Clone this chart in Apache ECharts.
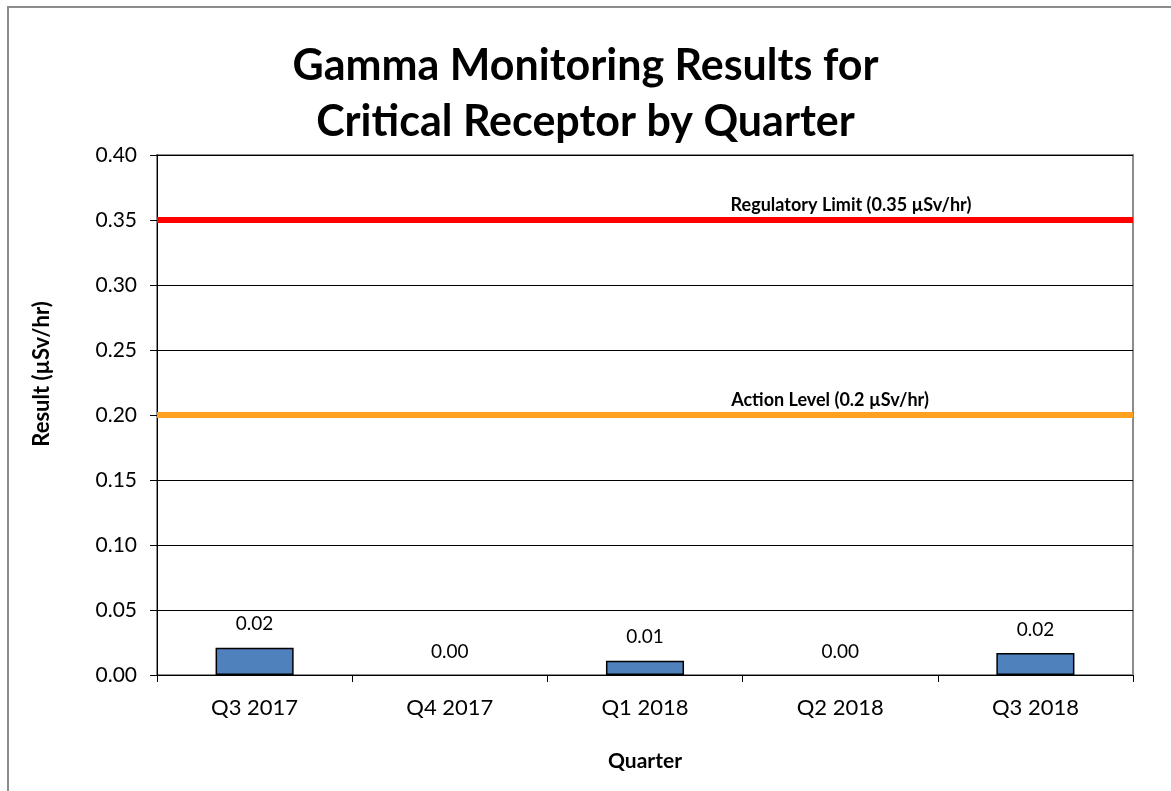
<!DOCTYPE html>
<html>
<head>
<meta charset="utf-8">
<script src="https://cdn.jsdelivr.net/npm/echarts@6/dist/echarts.min.js"></script>
<style>
  html, body { margin: 0; padding: 0; background: #fff; }
  #frame { position: absolute; left: 7px; top: 6px; width: 1200px; height: 820px; border: 2px solid #8c8c8c; }
  #chart { position: absolute; left: 0; top: 0; width: 1171px; height: 791px; }
</style>
</head>
<body>
<div id="frame"></div>
<div id="chart"></div>
<script>
// quarters and measured results (µSv/hr)
const quarters = ['Q3 2017', 'Q4 2017', 'Q1 2018', 'Q2 2018', 'Q3 2018'];
const results = [0.021, 0, 0.011, 0, 0.017];
// reference levels
const regulatoryLimit = 0.35;
const actionLevel = 0.2;

const font = 'Lato, "Open Sans", sans-serif';
let myChart = echarts.init(document.getElementById('chart'));

// zero results have no visible bar, only the label
const barData = results.map(v => ({
  value: v,
  itemStyle: v === 0 ? { color: 'transparent', borderWidth: 0 } : {}
}));

let option = {
  animation: false,
  title: {
    text: 'Gamma Monitoring Results for\nCritical Receptor by Quarter',
    left: 'center',
    top: 33,
    textStyle: { fontFamily: font, fontSize: 43, fontWeight: 'bold', color: '#000', lineHeight: 56 }
  },
  grid: {
    left: 157, top: 155, right: 38, bottom: 116,
    show: true, borderColor: '#8c8c8c', borderWidth: 2, backgroundColor: 'transparent'
  },
  xAxis: {
    type: 'category',
    data: quarters,
    name: 'Quarter',
    nameLocation: 'middle',
    nameGap: 76,
    nameTextStyle: { fontFamily: font, fontSize: 21, fontWeight: 'bold', color: '#000' },
    axisLine: { lineStyle: { color: '#000', width: 1 } },
    axisTick: { show: true, length: 7, lineStyle: { color: '#000' } },
    axisLabel: { fontFamily: font, fontSize: 22, color: '#000', margin: 22 }
  },
  yAxis: {
    type: 'value',
    min: 0, max: 0.4, interval: 0.05,
    name: 'Result (µSv/hr)',
    nameLocation: 'middle',
    nameGap: 104,
    nameTextStyle: { fontFamily: font, fontSize: 22, fontWeight: 'bold', color: '#000', padding: [0, 0, 0, 82] },
    axisLine: { show: true, lineStyle: { color: '#000', width: 1 } },
    axisTick: { show: true, length: 7, lineStyle: { color: '#000' } },
    splitLine: { lineStyle: { color: '#000', width: 1 } },
    axisLabel: {
      fontFamily: font, fontSize: 21, color: '#000', margin: 20,
      formatter: v => v.toFixed(2)
    }
  },
  series: [
    {
      type: 'bar',
      data: barData,
      barWidth: '40%',
      itemStyle: { color: '#4f81bd', borderColor: '#000', borderWidth: 1.5 },
      label: {
        show: true, position: 'top', distance: 14,
        fontFamily: font, fontSize: 19, color: '#000',
        formatter: p => p.value.toFixed(2)
      },
      markLine: {
        symbol: 'none',
        silent: true,
        data: [
          {
            yAxis: regulatoryLimit,
            lineStyle: { color: '#ff0000', width: 6, type: 'solid' },
            label: {
              show: true, position: 'insideMiddleTop', offset: [206, 0], distance: 6,
              formatter: 'Regulatory Limit (0.35 µSv/hr)',
              fontFamily: font, fontSize: 18, fontWeight: 'bold', color: '#000'
            }
          },
          {
            yAxis: actionLevel,
            lineStyle: { color: '#ffa020', width: 6, type: 'solid' },
            label: {
              show: true, position: 'insideMiddleTop', offset: [185, 0], distance: 6,
              formatter: 'Action Level (0.2 µSv/hr)',
              fontFamily: font, fontSize: 18, fontWeight: 'bold', color: '#000'
            }
          }
        ]
      }
    }
  ]
};

myChart.setOption(option);
window.addEventListener('resize', function () {
  myChart.resize();
});
</script>
</body>
</html>
